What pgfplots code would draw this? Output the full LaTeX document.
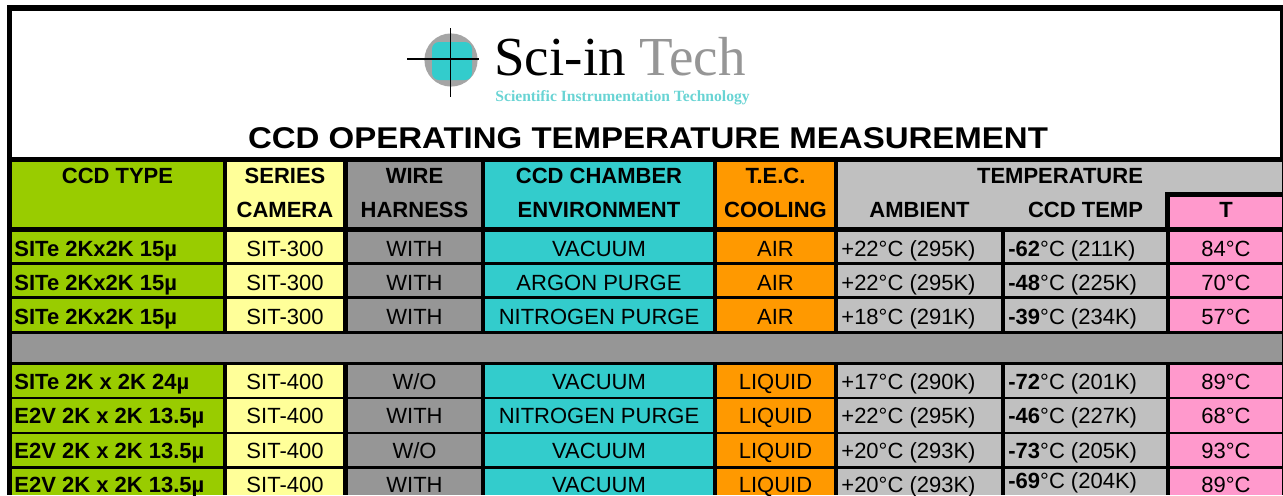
\documentclass[border=0pt]{standalone}
\usepackage{pgfplots}
\pgfplotsset{compat=1.18}
\usepackage{graphicx}
\usepackage{fontspec}
\setmainfont{Liberation Sans}
\newfontfamily\logofont{Liberation Serif}
\definecolor{cgreen}{RGB}{153,204,0}
\definecolor{cyellow}{RGB}{255,255,153}
\definecolor{cgray}{RGB}{150,150,150}
\definecolor{ccyan}{RGB}{51,204,204}
\definecolor{corange}{RGB}{255,153,0}
\definecolor{clgray}{RGB}{192,192,192}
\definecolor{cpink}{RGB}{255,153,204}
\definecolor{logogray}{RGB}{165,165,165}
\definecolor{techgray}{RGB}{150,150,150}
\definecolor{subcyan}{RGB}{105,212,212}

% cell: x1 x2 y1 y2 colour
\newcommand{\cell}[5]{\addplot[fill=#5,draw=none] coordinates {(#1,#3) (#2,#3) (#2,#4) (#1,#4)} -- cycle;}
% one band of cells of a data row
\newcommand{\cellrow}[2]{%
 \cell{12}{223}{#1}{#2}{cgreen}
 \cell{227}{343}{#1}{#2}{cyellow}
 \cell{348}{481}{#1}{#2}{cgray}
 \cell{485}{713}{#1}{#2}{ccyan}
 \cell{717}{834}{#1}{#2}{corange}
 \cell{838}{1001}{#1}{#2}{clgray}
 \cell{1005}{1166}{#1}{#2}{clgray}
 \cell{1170}{1282}{#1}{#2}{cpink}
}
\newcommand{\datarow}[9]{%
 \node[anchor=base west,inner sep=0,font=\bfseries] at (axis cs:14,#1) {#2};
 \node[anchor=base] at (axis cs:285,#1) {#3};
 \node[anchor=base] at (axis cs:414.5,#1) {#4};
 \node[anchor=base] at (axis cs:599,#1) {#5};
 \node[anchor=base] at (axis cs:775.5,#1) {#6};
 \node[anchor=base west,inner sep=0] at (axis cs:841,#1) {#7};
 \node[anchor=base west,inner sep=0] at (axis cs:1008,#1) {#8};
 \node[anchor=base] at (axis cs:1226,#1) {#9};
}

\begin{document}
\fontsize{11}{13}\selectfont
\begin{tikzpicture}
\begin{axis}[
  scale only axis, width=641.5pt, height=247.5pt,
  xmin=0, xmax=1283, ymin=0, ymax=495, y dir=reverse,
  hide axis, clip=false]
% frame
\cell{7}{1283}{5}{495}{black}
\cell{12}{1280}{11}{157}{white}
% logo
\fill[logogray] (axis cs:451,60) circle[radius=13.3pt];
\fill[ccyan, rounded corners=3.5pt] (axis cs:432,42) rectangle (axis cs:472,80);
\draw[black, line width=0.6pt] (axis cs:450.5,28) -- (axis cs:450.5,97);
\draw[black, line width=0.6pt] (axis cs:407,59) -- (axis cs:479,59);
\node[anchor=base west, inner sep=0, font=\logofont\fontsize{27.5}{27.5}\selectfont] at (axis cs:494,75) {Sci-in \textcolor{techgray}{Tech}};
\node[anchor=base west, inner sep=0, font=\logofont\bfseries\fontsize{7.8}{7.8}\selectfont, text=subcyan] at (axis cs:495,101) {Scientific Instrumentation Technology};
% title
\node[anchor=base, inner sep=0, font=\bfseries\fontsize{15}{15}\selectfont] at (axis cs:648,148) {\scalebox{1.1}[1]{CCD OPERATING TEMPERATURE MEASUREMENT}};
% header cells
\cell{12}{223}{162}{227}{cgreen}
\cell{227}{343}{162}{227}{cyellow}
\cell{348}{481}{162}{227}{cgray}
\cell{485}{713}{162}{227}{ccyan}
\cell{717}{834}{162}{227}{corange}
\cell{838}{1282}{162}{227}{clgray}
\cell{1165}{1282}{192}{227}{black}
\cell{1170}{1282}{197}{227}{cpink}
% header text
\begin{scope}[every node/.append style={font=\bfseries, anchor=base}]
\node at (axis cs:117.5,183) {CCD TYPE};
\node at (axis cs:285,183) {SERIES};
\node at (axis cs:285,217) {CAMERA};
\node at (axis cs:414.5,183) {WIRE};
\node at (axis cs:414.5,217) {HARNESS};
\node at (axis cs:599,183) {CCD CHAMBER};
\node at (axis cs:599,217) {ENVIRONMENT};
\node at (axis cs:775.5,183) {T.E.C.};
\node at (axis cs:775.5,217) {COOLING};
\node at (axis cs:1060,183) {TEMPERATURE};
\node at (axis cs:919.5,217) {AMBIENT};
\node at (axis cs:1085.5,217) {CCD TEMP};
\node at (axis cs:1226,217) {T};
\end{scope}
% body cells
\cellrow{232}{262}
\cellrow{265}{296}
\cellrow{299}{331}
\cell{12}{1282}{334}{362}{cgray}
\cellrow{365}{397}
\cellrow{399}{432}
\cellrow{434}{466}
\cellrow{469}{495}
% body text
\datarow{256}{SITe 2Kx2K 15µ}{SIT-300}{WITH}{VACUUM}{AIR}{+22°C (295K)}{\textbf{-62}°C (211K)}{84°C}
\datarow{290}{SITe 2Kx2K 15µ}{SIT-300}{WITH}{ARGON PURGE}{AIR}{+22°C (295K)}{\textbf{-48}°C (225K)}{70°C}
\datarow{324}{SITe 2Kx2K 15µ}{SIT-300}{WITH}{NITROGEN PURGE}{AIR}{+18°C (291K)}{\textbf{-39}°C (234K)}{57°C}
\datarow{389}{SITe 2K x 2K 24µ}{SIT-400}{W/O}{VACUUM}{LIQUID}{+17°C (290K)}{\textbf{-72}°C (201K)}{89°C}
\datarow{423}{E2V 2K x 2K 13.5µ}{SIT-400}{WITH}{NITROGEN PURGE}{LIQUID}{+22°C (295K)}{\textbf{-46}°C (227K)}{68°C}
\datarow{458}{E2V 2K x 2K 13.5µ}{SIT-400}{W/O}{VACUUM}{LIQUID}{+20°C (293K)}{\textbf{-73}°C (205K)}{93°C}
\datarow{492}{E2V 2K x 2K 13.5µ}{SIT-400}{WITH}{VACUUM}{LIQUID}{+20°C (293K)}{}{89°C}
\node[anchor=base west,inner sep=0] at (axis cs:1008,488) {\textbf{-69}°C (204K)};
\coordinate (bbll) at (axis cs:0,495);
\coordinate (bbur) at (axis cs:1283,0);
\end{axis}
\pgfresetboundingbox
\path[use as bounding box] (bbll) rectangle (bbur);
\end{tikzpicture}
\end{document}
